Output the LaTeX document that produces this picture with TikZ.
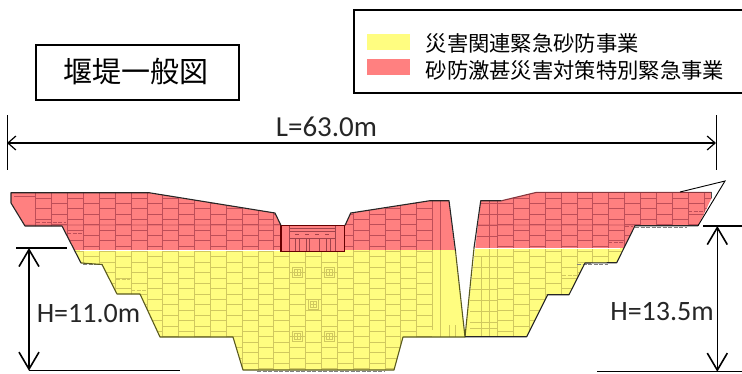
\documentclass[tikz,border=0pt]{standalone}
\usepackage{fontspec}
\setmainfont{Carlito}
\newfontfamily\jpfont{Noto Sans CJK JP}
\usetikzlibrary{arrows.meta}
\definecolor{damyellow}{RGB}{255,253,128}
\definecolor{damred}{RGB}{255,128,128}
\definecolor{gridyellow}{RGB}{208,200,95}
\definecolor{gridred}{RGB}{190,78,88}
\definecolor{edgeyellow}{RGB}{90,90,30}
\newcommand{\brickgrid}[4]{%
 \foreach \k in {0,...,#3}{%
  \pgfmathsetmacro\xa{#1+#2*\k}%
  \pgfmathsetmacro\xb{\xa+#2}%
  \pgfmathsetmacro\off{mod(\k+#4,2)*5.33}%
  \draw (\xa,185) -- (\xa,375);
  \foreach \j in {0,...,17}{%
   \pgfmathsetmacro\yy{192.6+\off+10.67*\j}%
   \draw (\xa,\yy) -- (\xb,\yy);
  }%
 }%
}
\def\leftdam{(11,192.7) -- (11,203) -- (25,226) -- (62,226) -- (81,263) -- (102,264.5) -- (117,294) -- (140,294) -- (160,337) -- (233,337) -- (243,370) -- (394,370) -- (403,337) -- (465,337) -- (449,200.7) -- (430,200.7) -- (350.7,213) -- (345,225.5) -- (281,225.5) -- (275,213) -- (149,192.7) -- cycle}
\def\rightdam{(465,337) -- (480.7,200.7) -- (501.7,200.7) -- (536.7,192.3) -- (711.7,192.3) -- (711.7,198) -- (698,225.7) -- (635,225.7) -- (616.7,262.7) -- (585,263) -- (569,294.7) -- (547.7,294.7) -- (526.7,336.7) -- cycle}
\tikzset{
 boxed/.style={draw=black,line width=1.5pt,fill=white,inner sep=0pt},
 jplabel/.style={font=\jpfont\fontsize{21.3}{24}\selectfont,anchor=west,inner sep=0pt},
 dimlabel/.style={font=\fontsize{28}{30}\selectfont,inner sep=0pt,text=black!85},
 dimline/.style={draw=black,line width=1.5pt},
 bigarrow/.style={draw=black,line width=1.6pt,{Straight Barb[length=17pt,width=20pt,line width=1.6pt]}-{Straight Barb[length=17pt,width=20pt,line width=1.6pt]}},
 widearrow/.style={draw=black,line width=1.2pt,{Straight Barb[length=8pt,width=14pt,line width=1.2pt]}-{Straight Barb[length=8pt,width=14pt,line width=1.2pt]}},
 inspect/.style={draw=gridyellow,line width=1pt,minimum size=10pt,inner sep=0pt},
 gridthin/.style={line width=.55pt},
}
\begin{document}
\begin{tikzpicture}[x=1pt,y=-1pt]
\useasboundingbox (0,0) rectangle (742,373);
% left block
\begin{scope}
 \clip \leftdam;
 \begin{scope}
  \clip (0,180) rectangle (470,250.6);
  \fill[damred] (0,180) rectangle (470,251);
  \begin{scope}[draw=gridred,gridthin]
   \brickgrid{35.7}{15.87}{24}{1}
   \draw (432,185) -- (432,251);
   \draw (440,185) -- (440,251);
   \draw (14,196) -- (35.7,196);
  \end{scope}
  \draw[gridred,line width=1.6pt,opacity=.3] (0,225) -- (281,225);
 \end{scope}
 \begin{scope}
  \clip (0,250.6) rectangle (470,375);
  \fill[damyellow] (0,250) rectangle (470,375);
  \begin{scope}[draw=gridyellow,gridthin]
   \brickgrid{35.7}{15.87}{24}{1}
   \draw (432,250) -- (432,330);
   \draw (440,250) -- (440,337);
   \draw (449,325) -- (449,337);
   \draw (455,325) -- (455,337);
  \end{scope}
 \end{scope}
 \draw[white,line width=.9pt] (80,250.6) -- (281,250.6);
\end{scope}
% right block
\begin{scope}
 \clip \rightdam;
 \begin{scope}
  \clip (460,180) rectangle (720,248.3);
  \fill[damred] (460,180) rectangle (720,249);
  \begin{scope}[draw=gridred,gridthin]
   \brickgrid{497.3}{15.9}{13}{0}
   \draw (489,185) -- (489,248);
   \draw (480,203) -- (497.3,203);
   \draw (480,214) -- (497.3,214);
   \draw (478,225) -- (497.3,225);
   \draw (476,236) -- (497.3,236);
  \end{scope}
  \draw[gridred,line width=1.6pt,opacity=.3] (460,225) -- (635,225);
 \end{scope}
 \begin{scope}
  \clip (460,248.3) rectangle (720,375);
  \fill[damyellow] (460,248) rectangle (720,375);
  \begin{scope}[draw=gridyellow,gridthin]
   \brickgrid{497.3}{15.9}{13}{0}
   \draw (481.5,256) -- (481.5,337);
   \draw (489,248) -- (489,337);
   \foreach \yy in {256,267,278,289,300,311,322,328} {\draw (470,\yy) -- (497.3,\yy);}
  \end{scope}
 \end{scope}
 \draw[white,line width=.9pt] (470,248.3) -- (620,248.3);
\end{scope}
% spillway
\begin{scope}
 \fill[damred] (281.6,226.3) rectangle (344,251.1);
 \draw[line width=1.1pt,draw=gridred!85!black] (289.3,225.7) -- (289.3,251.7) (335.7,225.7) -- (335.7,251.7);
 \draw[line width=.9pt,draw=gridred!85!black] (289.3,228.3) -- (335.7,228.3) (289.3,231) -- (335.7,231) (289.3,238.3) -- (335.7,238.3);
 \draw[line width=.9pt,dash pattern=on 4pt off 6pt,draw=gridred!85!black] (295,234) -- (335.7,234);
 \foreach \xx in {295,299.3,306,309,319.3,326,330}{\draw[line width=.9pt,draw=gridred!85!black] (\xx,238.3) -- (\xx,251.7);}
 \draw[line width=1.2pt,draw=black!60!red] (281,225.7) rectangle (344.7,251.7);
\end{scope}
% inspection galleries
\foreach \nm/\px/\py in {ga/297/272,gb/329/272,gc/313/304,gd/297/336,ge/329/336}{
 \node[inspect] (\nm) at (\px,\py) {};
 \draw[gridyellow,line width=.5pt] ([xshift=-3pt,yshift=-3pt]\nm.center) rectangle ([xshift=3pt,yshift=3pt]\nm.center);
 \draw[gridyellow,line width=.5pt] ([xshift=-3pt]\nm.center) -- ([xshift=3pt]\nm.center) ([yshift=-3pt]\nm.center) -- ([yshift=3pt]\nm.center);
}
% step details
\foreach \xa/\xb/\yy/\cc in {36/66/222.5/gridred,67/82/233/gridred,83/103/264.5/black!50,116/130/279/gridyellow,131/146/290/gridyellow,257/384/371.5/black!50,608/623/242.7/gridred,625/633/226.7/gridred,577/608/264.3/black!50,562/577/275/gridyellow,688/703/211/gridred,635/687/227/black!50}{
 \draw[\cc,line width=.8pt,dash pattern=on 4pt off 1.5pt] (\xa,\yy) -- (\xb,\yy);
}
% outlines
\draw[line width=1.1pt,draw=black!85,line join=round] (81,263) -- (62,226) -- (25,226) -- (11,203) -- (11,192.7) -- (149,192.7) -- (275,213) -- (281,225.5);
\draw[line width=1.1pt,draw=edgeyellow,line join=round] (81,263) -- (102,264.5) (102,264.5) -- (117,294) -- (140,294) -- (160,337) -- (233,337) -- (243,370) -- (394,370) -- (403,337) -- (465,337);
\draw[line width=1.1pt,draw=black!85,line join=round] (345,225.5) -- (350.7,213) -- (430,200.7) -- (449,200.7) -- (455.5,251);
\draw[line width=1.1pt,draw=edgeyellow] (455.5,251) -- (465,337);
\draw[line width=1.1pt,draw=edgeyellow] (465,337) -- (474,248);
\draw[line width=1.1pt,draw=black!85,line join=round] (474,248) -- (480.7,200.7) -- (501.7,200.7);
\draw[line width=1.1pt,draw=gridred!70!black] (501.7,200.7) -- (536.7,192.3) -- (711.7,192.3);
\draw[line width=.9pt,draw=black!70] (711.7,192.3) -- (711.7,198);
\draw[line width=1.1pt,draw=black!85,line join=round] (698,225.7) -- (635,225.7) -- (616.7,262.7) -- (585,263) -- (569,294.7) -- (547.7,294.7) -- (526.7,336.7) -- (465,336.7);
% survey triangle
\coordinate (tria) at (680,192);
\coordinate (trib) at (725,181);
\coordinate (tric) at (698,225.7);
\draw[black,line width=.9pt,line join=miter] (tria) -- (trib) -- (tric);
% title box
\node[boxed,minimum width=203pt,minimum height=55pt] (title) at (137.5,72.5) {};
\node[font=\jpfont\fontsize{29}{32}\selectfont,inner sep=0pt] (titletext) at (136,72) {堰堤一般図};
% legend
\node[boxed,anchor=north west,minimum width=392pt,minimum height=83pt] (legend) at (353,9) {};
\node[fill=damyellow,minimum width=43pt,minimum height=16pt,inner sep=0pt,anchor=north west] (swatcha) at (367,34) {};
\node[fill=damred,minimum width=43pt,minimum height=16pt,inner sep=0pt,anchor=north west] (swatchb) at (367,59) {};
\node[jplabel] (labela) at (425.5,43) {災害関連緊急砂防事業};
\node[jplabel] (labelb) at (425.5,70) {砂防激甚災害対策特別緊急事業};
% L dimension
\coordinate (la) at (7,115); \coordinate (lb) at (7,170);
\coordinate (lc) at (716,115); \coordinate (ld) at (716,170);
\coordinate (le) at (7,143); \coordinate (lf) at (716,143);
\draw[black,line width=1pt] (la) -- (lb);
\draw[black,line width=1pt] (lc) -- (ld);
\draw[widearrow] (le) -- (lf);
\node[dimlabel,font=\fontsize{29}{30}\selectfont] (ltext) at (326.5,127) {L=63.0m};
% H left
\coordinate (ha) at (16,248); \coordinate (hb) at (67,248);
\coordinate (hc) at (29,370.7); \coordinate (hd) at (180,370.7);
\coordinate (he) at (29,248); 
\draw[dimline] (ha) -- (hb);
\draw[dimline] (hc) -- (hd);
\draw[bigarrow] (he) -- (hc);
\node[dimlabel] (htext) at (88.5,314) {H=11.0m};
% H right
\coordinate (ra) at (703,226); \coordinate (rb) at (742,226);
\coordinate (rc) at (597,371.7); \coordinate (rd) at (742,371.7);
\coordinate (re) at (717.3,226); \coordinate (rf) at (717.3,371.7);
\draw[dimline] (ra) -- (rb);
\draw[dimline] (rc) -- (rd);
\draw[bigarrow] (re) -- (rf);
\node[dimlabel] (rtext) at (662,311.7) {H=13.5m};
\end{tikzpicture}
\end{document}
